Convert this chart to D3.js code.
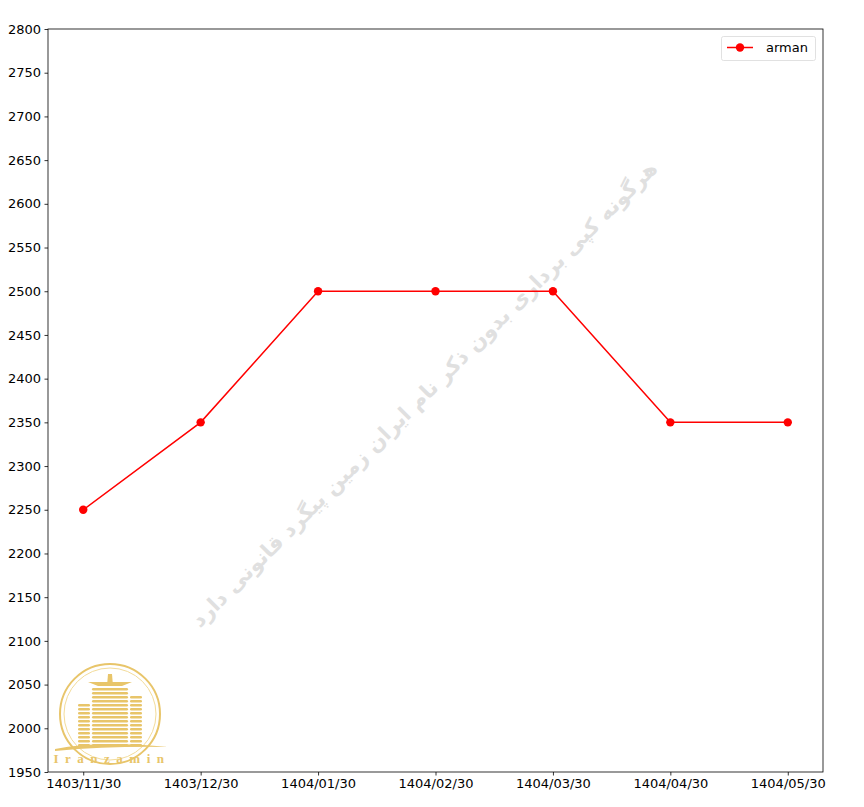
<!DOCTYPE html>
<html><head><meta charset="utf-8">
<script src="https://cdn.jsdelivr.net/npm/d3@7"></script>
<style>body{margin:0;background:#fff}svg{display:block}</style>
</head><body>
<script>
const categories = ["1403/11/30","1403/12/30","1404/01/30","1404/02/30","1404/03/30","1404/04/30","1404/05/30"];
const armanValues = [2250,2350,2500,2500,2500,2350,2350];
const yTicks = [1950,2000,2050,2100,2150,2200,2250,2300,2350,2400,2450,2500,2550,2600,2650,2700,2750,2800];
const seriesName = "arman";
const watermark = "هرگونه کپی برداری بدون ذکر نام ایران زمین پیگرد قانونی دارد";

const W=864,H=807, L=48,R=823,T=29,B=772;
const svg=d3.select("body").append("svg").attr("width",W).attr("height",H);
const font="DejaVu Sans";
const x=d3.scalePoint().domain(categories).range([L,R]).padding(0.3);
const y=d3.scaleLinear().domain([1950,2800]).range([B,T]);

// watermark
svg.append("text").attr("transform","translate(425,395) rotate(-45)")
  .attr("text-anchor","middle").attr("dominant-baseline","middle")
  .attr("font-family","DejaVu Sans").attr("font-weight","bold").attr("font-size",21)
  .attr("fill","#e0e0e0").attr("direction","rtl").text(watermark);

// logo
const gold="#e8c56a";
const lg=svg.append("g").attr("transform","translate(110,714)");
lg.append("circle").attr("r",50).attr("fill","none").attr("stroke",gold).attr("stroke-width",2);
lg.append("circle").attr("r",46).attr("fill","none").attr("stroke","#f3dc9a").attr("stroke-width",1);
const bld=[[-32,-10,12],[-18,-26,36],[20,-18,12]];
bld.forEach(([bx,by,w])=>{
  for(let yy=by; yy<34; yy+=4){
    lg.append("rect").attr("x",bx).attr("y",yy).attr("width",w).attr("height",2.4).attr("rx",1.2).attr("fill",gold);
  }
});
lg.append("path").attr("d","M-22,-32 L22,-32 L12,-28 L-12,-28 Z").attr("fill",gold);
lg.append("path").attr("d","M-2,-40 L2,-40 L3,-28 L-3,-28 Z").attr("fill",gold);
lg.append("path").attr("d","M-55,35 Q-10,26 58,33 Q0,32 -55,37 Z").attr("fill",gold);
lg.append("text").attr("x",2).attr("y",49).attr("text-anchor","middle")
  .attr("font-family","Liberation Serif").attr("font-weight","bold").attr("font-size",13)
  .attr("letter-spacing",6.5).attr("fill",gold).text("Iranzamin");

// axes
const yAxis=d3.axisLeft(y).tickValues(yTicks).tickSize(3.5).tickPadding(3.5).tickFormat(d3.format("d"));
const xAxis=d3.axisBottom(x).tickSize(3.5).tickPadding(3.5);
const ga=svg.append("g").attr("transform",`translate(${L},0)`).call(yAxis);
const gb=svg.append("g").attr("transform",`translate(0,${B})`).call(xAxis);
[ga,gb].forEach(g=>{g.select(".domain").remove();
  g.selectAll("text").attr("font-family",font).attr("font-size",13).attr("fill","#000");
  g.selectAll("line").attr("stroke","#000").attr("stroke-width",0.8);});
svg.append("rect").attr("x",L).attr("y",T).attr("width",R-L).attr("height",B-T)
  .attr("fill","none").attr("stroke","#000").attr("stroke-width",0.8);

// line
const line=d3.line().x((d,i)=>x(categories[i])).y(d=>y(d));
svg.append("path").datum(armanValues).attr("d",line).attr("fill","none").attr("stroke","#ff0000").attr("stroke-width",1.5);
svg.selectAll("circle.pt").data(armanValues).join("circle").attr("class","pt")
  .attr("cx",(d,i)=>x(categories[i])).attr("cy",d=>y(d)).attr("r",4.2).attr("fill","#ff0000");

// legend
const lgd=svg.append("g");
lgd.append("rect").attr("x",721.5).attr("y",36.5).attr("width",94).attr("height",24).attr("rx",2)
  .attr("fill","#fff").attr("fill-opacity",0.8).attr("stroke","#d9d9d9").attr("stroke-width",0.8);
lgd.append("line").attr("x1",727).attr("x2",753).attr("y1",47.5).attr("y2",47.5).attr("stroke","#ff0000").attr("stroke-width",1.5);
lgd.append("circle").attr("cx",740).attr("cy",47.5).attr("r",4.2).attr("fill","#ff0000");
lgd.append("text").attr("x",766).attr("y",52).attr("font-family",font).attr("font-size",13).attr("fill","#000").text(seriesName);
</script>
</body></html>
